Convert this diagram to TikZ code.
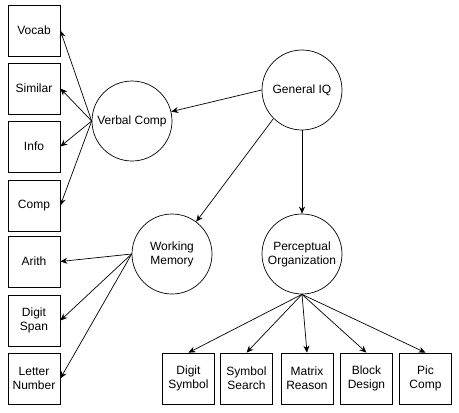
\documentclass[tikz,border=0pt]{standalone}
\usepackage{fontspec}
\setmainfont{Liberation Sans}
\usetikzlibrary{arrows.meta}

\begin{document}
\begin{tikzpicture}[x=1pt, y=-1pt,
    factor/.style={draw, circle, minimum size=80pt, inner sep=0pt, align=center},
    subtest/.style={draw, minimum width=52pt, minimum height=51pt, inner sep=0pt, align=center},
    load/.style={-{Stealth[length=7pt, width=6pt]}},
    font=\fontsize{12}{14}\selectfont, line width=0.7pt]

    \useasboundingbox (0,0) rectangle (459,413);

    %% Factors
    \node[factor] (giq) at (302,90) {General IQ};
    \node[factor] (vc) at (132,121) {Verbal Comp};
    \node[factor] (wm) at (172,254) {Working\\Memory};
    \node[factor] (po) at (302,254) {Perceptual\\Organization};

    %% Subtests
    % Verbal
    \node[subtest] (vocab) at (34,30.5) {Vocab};
    \node[subtest] (similar) at (34,88.5) {Similar};
    \node[subtest] (info) at (34,146.5) {Info};
    \node[subtest] (comp) at (34,205.5) {Comp};

    % Memory
    \node[subtest] (arith) at (34,261.5) {Arith};
    \node[subtest] (span) at (34,320.5) {Digit\\Span};
    \node[subtest] (letter) at (34,378.5) {Letter\\Number};

    % Perceptual
    \node[subtest] (dsym) at (188.5,378.5) {Digit\\Symbol};
    \node[subtest] (ssearch) at (246.5,378.5) {Symbol\\Search};
    \node[subtest] (matrix) at (307,378.5) {Matrix\\Reason};
    \node[subtest] (block) at (366.5,378.5) {Block\\Design};
    \node[subtest] (pcomp) at (425.5,378.5) {Pic\\Comp};

    %% Loadings
    \draw[load] (giq.west) -- (vc);
    \draw[load] (giq.225) -- (wm);
    \draw[load] (giq.south) -- (po.north);

    \foreach \t in {vocab, similar, info, comp}
        \draw[load] (vc.west) -- (\t.east);
    \foreach \t in {arith, span, letter}
        \draw[load] (wm.west) -- (\t.east);
    \foreach \t in {dsym, ssearch, matrix, block, pcomp}
        \draw[load] (po.south) -- (\t.north);

\end{tikzpicture}
\end{document}
